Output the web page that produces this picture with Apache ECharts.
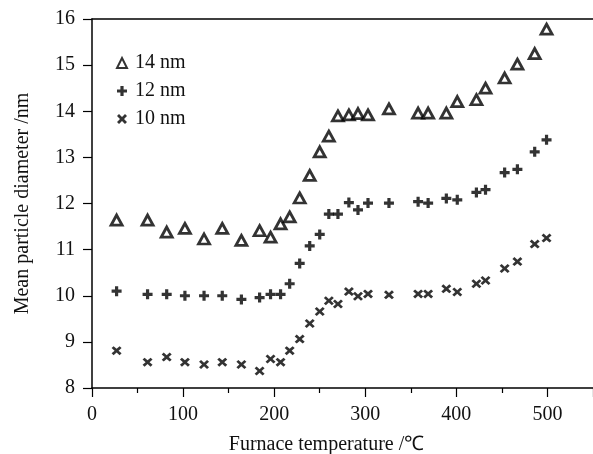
<!DOCTYPE html>
<html>
<head>
<meta charset="utf-8">
<script src="https://cdn.jsdelivr.net/npm/echarts@6/dist/echarts.min.js"></script>
<style>html,body{margin:0;padding:0;background:#fff}#c{width:593px;height:454px}</style>
</head>
<body>
<div id="c"></div>
<script>
const temperature = [27, 61, 82, 102, 123, 143, 164, 184, 196, 207, 217, 228, 239, 250, 260, 270, 282, 292, 303, 326, 358, 369, 389, 401, 422, 432, 453, 467, 486, 499];
const d14 = [11.64, 11.64, 11.38, 11.46, 11.23, 11.46, 11.20, 11.41, 11.27, 11.56, 11.71, 12.12, 12.61, 13.12, 13.46, 13.90, 13.92, 13.95, 13.92, 14.05, 13.96, 13.96, 13.96, 14.21, 14.25, 14.50, 14.72, 15.02, 15.25, 15.78];
const d12 = [10.10, 10.03, 10.03, 10.00, 10.00, 10.00, 9.92, 9.96, 10.03, 10.03, 10.26, 10.70, 11.08, 11.33, 11.77, 11.77, 12.02, 11.86, 12.01, 12.01, 12.04, 12.01, 12.11, 12.08, 12.24, 12.30, 12.67, 12.74, 13.12, 13.38];
const d10 = [8.81, 8.56, 8.67, 8.56, 8.51, 8.56, 8.51, 8.37, 8.63, 8.56, 8.81, 9.06, 9.40, 9.66, 9.89, 9.82, 10.09, 9.99, 10.04, 10.02, 10.04, 10.04, 10.15, 10.08, 10.26, 10.33, 10.59, 10.74, 11.12, 11.25];
const seriesNames = ['14 nm', '12 nm', '10 nm'];
const xTitle = 'Furnace temperature /\u2103';
const yTitle = 'Mean particle diameter /nm';

const FONT = '"Liberation Serif", "Times New Roman", serif';
const pair = (ys) => temperature.map((t, i) => [t, ys[i]]);
const plusPath = 'path://M3.4,0H6.6V3.4H10V6.6H6.6V10H3.4V6.6H0V3.4H3.4Z';
const crossPath = 'path://M0,2L2,0L5,3L8,0L10,2L7,5L10,8L8,10L5,7L2,10L0,8L3,5Z';

const chart = echarts.init(document.getElementById('c'), null, {renderer: 'canvas'});
chart.setOption({
  animation: false,
  backgroundColor: '#fff',
  textStyle: {fontFamily: FONT},
  grid: {left: 92, right: 0, top: 19, bottom: 66, containLabel: false, outerBoundsMode: 'none'},
  legend: {
    orient: 'vertical', left: 111, top: 48, itemGap: 8, itemWidth: 10, itemHeight: 10,
    data: seriesNames,
    textStyle: {fontSize: 20, color: '#111', fontFamily: FONT, padding: [0, 0, 0, 3]}
  },
  xAxis: [{
    type: 'value', min: 0, max: 550, interval: 100,
    name: xTitle, nameLocation: 'middle', nameGap: 47,
    nameTextStyle: {fontSize: 20, color: '#111', fontFamily: FONT, padding: [0, 32, 0, 0]},
    axisLine: {lineStyle: {color: '#000', width: 1.5}},
    axisTick: {inside: false, length: 9, lineStyle: {color: '#000', width: 1.2}},
    minorTick: {show: true, splitNumber: 2, length: 5, lineStyle: {color: '#000', width: 1.2}},
    axisLabel: {fontSize: 20, color: '#111', margin: 17, fontFamily: FONT, showMaxLabel: false},
    splitLine: {show: false}
  }, {
    type: 'value', position: 'top', min: 0, max: 550,
    axisLine: {show: true, lineStyle: {color: '#000', width: 1.5}},
    axisTick: {show: false}, axisLabel: {show: false}, splitLine: {show: false}
  }],
  yAxis: {
    type: 'value', min: 8, max: 16, interval: 1,
    name: yTitle, nameLocation: 'middle', nameGap: 59, nameRotate: 90,
    nameTextStyle: {fontSize: 20, color: '#111', fontFamily: FONT},
    axisLine: {show: true, lineStyle: {color: '#000', width: 1.5}},
    axisTick: {inside: false, length: 9, lineStyle: {color: '#000', width: 1.2}},
    axisLabel: {fontSize: 20, color: '#111', margin: 17, fontFamily: FONT},
    splitLine: {show: false}
  },
  series: [{
    name: seriesNames[0], type: 'scatter', data: pair(d14),
    symbol: 'triangle', symbolSize: [11, 10],
    itemStyle: {color: '#fff', borderColor: '#000', borderWidth: 2.8}
  }, {
    name: seriesNames[1], type: 'scatter', data: pair(d12),
    symbol: plusPath, symbolSize: 10,
    itemStyle: {color: '#000'}
  }, {
    name: seriesNames[2], type: 'scatter', data: pair(d10),
    symbol: crossPath, symbolSize: [10, 9],
    itemStyle: {color: '#000'}
  }]
});
</script>
</body>
</html>
